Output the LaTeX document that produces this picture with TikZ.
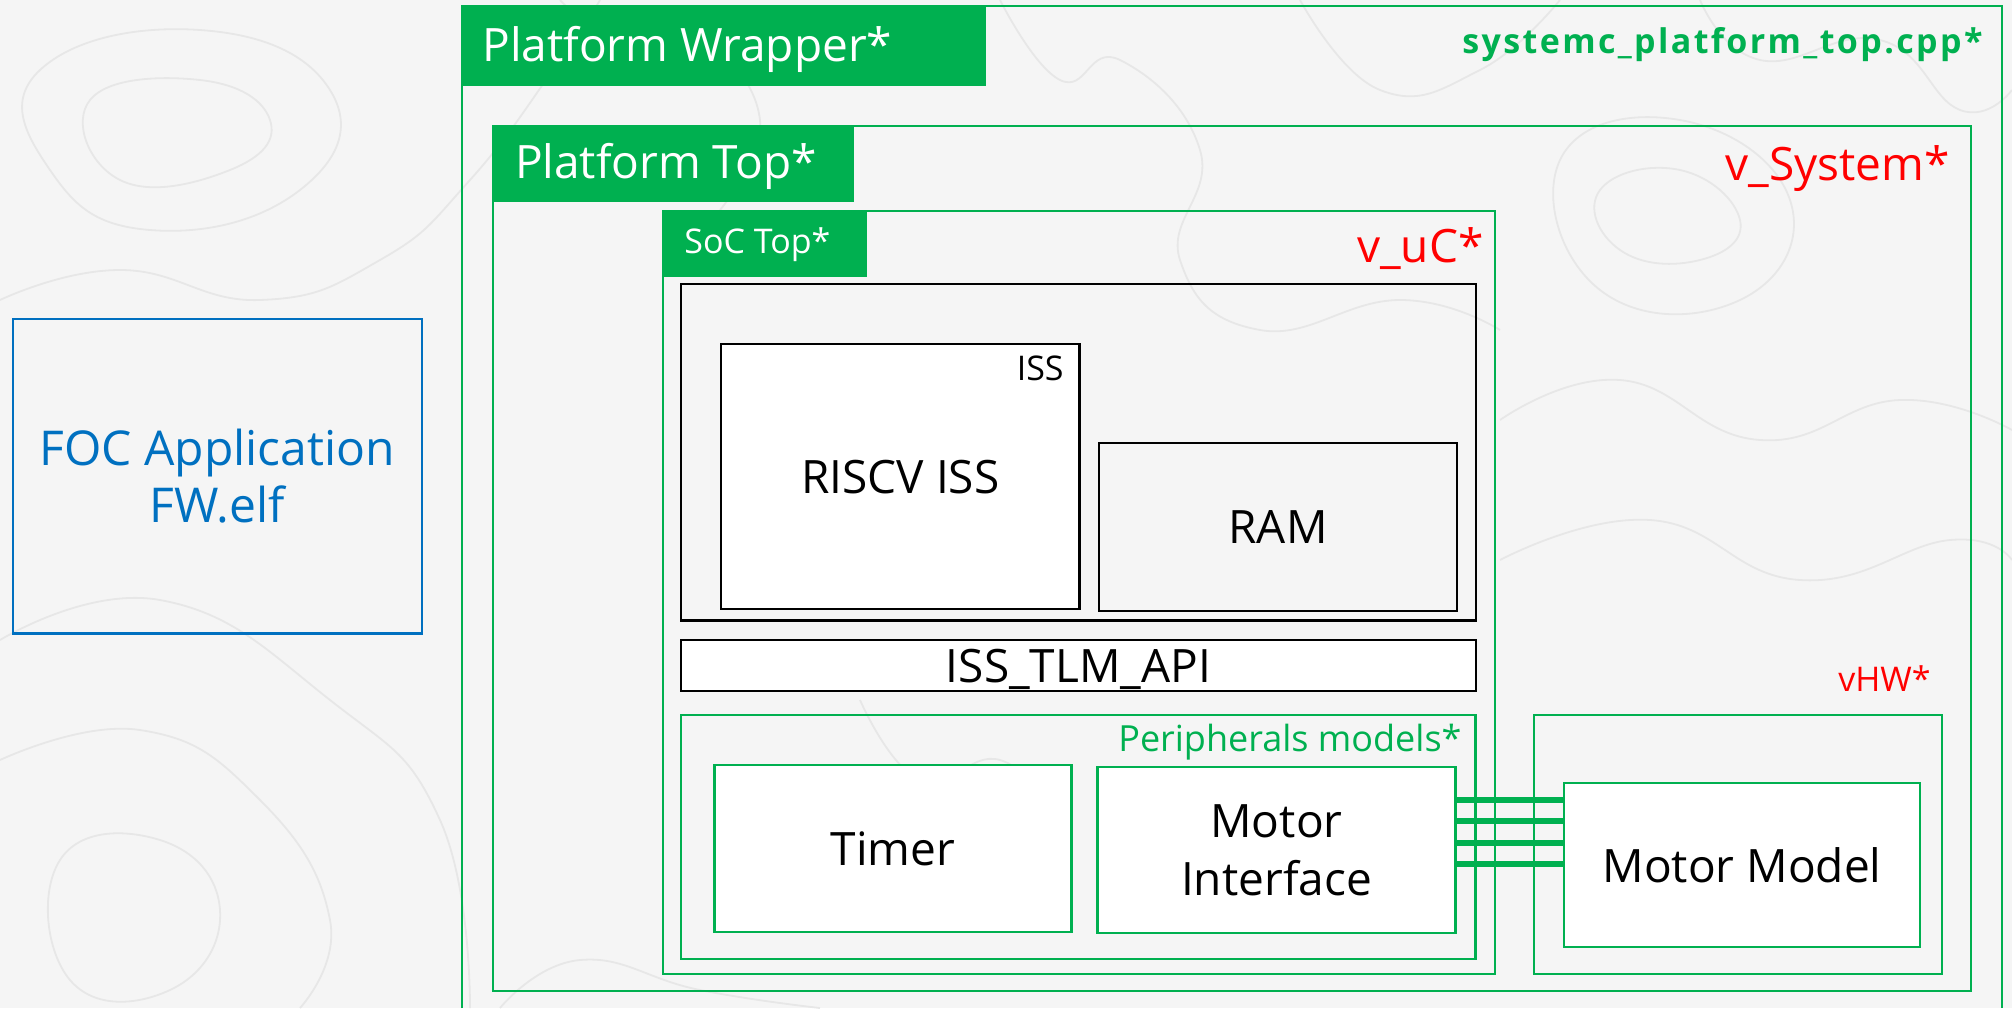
\documentclass[tikz,border=0pt]{standalone}
\usepackage{fontspec}
\setmainfont{Open Sans}
\newfontfamily\codefont[LetterSpace=7]{Open Sans}
\definecolor{pgreen}{HTML}{00B050}
\definecolor{pred}{HTML}{FF0000}
\definecolor{pblue}{HTML}{0070C0}
\definecolor{paper}{HTML}{F5F5F5}
\definecolor{contour}{HTML}{E7E7E7}
\tikzset{
  % rectangle given by its corners x1/y1/x2/y2 in pixel units
  area/.style args={#1/#2/#3/#4}{
    rectangle, inner sep=0pt, outer sep=0pt,
    minimum width={((#3)-(#1))*0.5pt},
    minimum height={((#4)-(#2))*0.5pt},
    at={({((#1)+(#3))/2},{((#2)+(#4))/2})}},
  gline/.style={draw=pgreen, line width=1.2pt},
  gbox/.style={draw=pgreen, line width=1.2pt},
  kbox/.style={draw=black, line width=1.2pt},
  bbox/.style={draw=pblue, line width=1.2pt},
  hdr/.style={fill=pgreen, draw=pgreen, line width=1.2pt},
  bigtxt/.style={font=\fontsize{23}{29}\selectfont, text depth=0pt},
  midtxt/.style={font=\fontsize{17}{21}\selectfont, inner sep=0pt},
  titletxt/.style={font=\fontsize{23}{29}\selectfont, inner sep=0pt},
  conn/.style={draw=pgreen, line width=3pt},
}
\begin{document}
\begin{tikzpicture}[x=0.5pt,y=-0.5pt]
\useasboundingbox[fill=paper] (0,0) rectangle (2012,1008);

% faint topographic background
\begin{scope}[draw=contour, line width=0.9pt]
  \draw plot[smooth cycle, tension=0.8] coordinates {(40,70) (200,30) (330,90) (300,190) (150,230) (50,170)};
  \draw plot[smooth cycle, tension=0.8] coordinates {(90,100) (200,80) (270,120) (230,170) (120,180)};
  \draw plot[smooth, tension=0.8] coordinates {(0,300) (120,270) (260,300) (380,260) (470,180) (560,60) (600,0)};
  \draw plot[smooth, tension=0.8] coordinates {(0,640) (160,600) (330,700) (440,820) (470,1008)};
  \draw plot[smooth, tension=0.8] coordinates {(0,760) (140,730) (260,800) (330,920) (300,1008)};
  \draw plot[smooth cycle, tension=0.8] coordinates {(60,860) (160,840) (220,910) (170,990) (70,980)};
  \draw plot[smooth, tension=0.8] coordinates {(560,0) (640,60) (700,40) (760,120) (720,210)};
  \draw plot[smooth, tension=0.8] coordinates {(1000,0) (1060,80) (1120,60) (1200,150) (1180,260) (1260,330) (1400,300) (1500,330)};
  \draw plot[smooth cycle, tension=0.8] coordinates {(1560,160) (1680,120) (1790,200) (1740,300) (1600,290)};
  \draw plot[smooth cycle, tension=0.8] coordinates {(1600,190) (1680,170) (1740,220) (1700,260) (1620,250)};
  \draw plot[smooth, tension=0.8] coordinates {(1500,420) (1620,380) (1760,440) (1900,400) (2012,430)};
  \draw plot[smooth, tension=0.8] coordinates {(1500,560) (1650,520) (1800,580) (1950,540) (2012,560)};
  \draw plot[smooth, tension=0.8] coordinates {(1300,0) (1380,90) (1480,70) (1560,0)};
  \draw plot[smooth, tension=0.8] coordinates {(1700,0) (1760,60) (1880,40) (1960,110) (2012,90)};
  \draw plot[smooth, tension=0.8] coordinates {(860,700) (920,780) (1000,760) (1060,820)};
  \draw plot[smooth, tension=0.8] coordinates {(500,1008) (580,960) (700,990) (820,1008)};
\end{scope}

% firmware image
\node[bbox, area=12.7/319/421.7/633.3, font=\fontsize{24}{28.4}\selectfont,
      text=pblue, align=center] (foc) {FOC Application\\FW.elf};

% platform wrapper
\coordinate (wrapBL) at (462,1008);
\coordinate (wrapBR) at (2002,1008);
\draw[gline] (wrapBL) |- (2002,6) -- (wrapBR);
\node[hdr, area=462/6/985/85] (wraphdr) {};
\node[titletxt, anchor=base west, text=white] (wraptitle) at (482,61.7) {Platform Wrapper*};
\node[inner sep=0pt, anchor=base east, text=pgreen, font=\codefont\bfseries\fontsize{17}{21}\selectfont]
  (wrapfile) at (1983,53.3) {systemc\_platform\_top.cpp*};

% platform top
\node[gbox, area=493/126/1971/991] (ptop) {};
\node[hdr, area=493/126/853/201] (ptophdr) {};
\node[titletxt, anchor=base west, text=white] (ptoptitle) at (514.6,178.3) {Platform Top*};
\node[titletxt, anchor=base east, text=pred] (vsys) at (1950,180) {v\_System*};

% SoC top
\node[gbox, area=663/211/1495/974] (soc) {};
\node[hdr, area=663/211/866/276] (sochdr) {};
\node[midtxt, anchor=base west, text=white] (soctitle) at (684,253.3) {SoC Top*};
\node[titletxt, anchor=base east, text=pred] (vuc) at (1484,262) {v\_uC*};

% core subsystem
\node[kbox, area=681/284/1476/620.5] (core) {};
\node[kbox, fill=white, area=721/344/1079.5/609, bigtxt] (iss) {RISCV ISS};
\node[midtxt, anchor=base east] (isstag) at (1064,380.7) {ISS};
\node[kbox, area=1099/443/1457/611, bigtxt] (ram) {RAM};
\node[kbox, fill=white, area=681/640/1476/691, bigtxt] (api) {ISS\_TLM\_API};

% peripherals
\node[gbox, area=681/715/1475.6/959] (periph) {};
\node[inner sep=0pt, anchor=base east, text=pgreen, font=\fontsize{18}{22}\selectfont]
  (periphtag) at (1462,751.7) {Peripherals models*};
\node[gbox, fill=white, area=714.4/764.7/1071.3/931.7, bigtxt] (timer) {Timer};
\node[gbox, fill=white, area=1097.6/766.7/1455.4/932.7, bigtxt, align=center] (mif) {Motor\\Interface};

% virtual hardware
\node[gbox, area=1534/715/1942/974] (vhw) {};
\node[midtxt, anchor=base east, text=pred] (vhwtag) at (1931,691.6) {vHW*};
\node[gbox, fill=white, area=1564/782.7/1920/946.7, bigtxt] (mm) {Motor Model};

% signal lines between interface and motor model
\coordinate (s1) at (0,800);
\coordinate (s2) at (0,820.7);
\coordinate (s3) at (0,842.8);
\coordinate (s4) at (0,863.8);
\foreach \s in {s1,s2,s3,s4}
  \draw[conn] (mif.east |- \s) -- (mm.west |- \s);
\end{tikzpicture}
\end{document}
